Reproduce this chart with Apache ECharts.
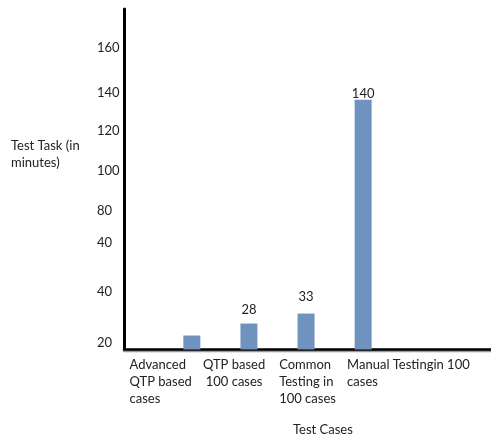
<!DOCTYPE html>
<html>
<head>
<meta charset="utf-8">
<script src="https://cdn.jsdelivr.net/npm/echarts@6/dist/echarts.min.js"></script>
<style>
  html, body { margin: 0; padding: 0; background: #fff; }
  #chart { width: 491px; height: 439px; }
</style>
</head>
<body>
<div id="chart"></div>
<script>
// values
const categories = [
  "Advanced\nQTP based\ncases",
  "QTP based\n100 cases",
  "Common\nTesting in\n100 cases",
  "Manual Testingin 100\ncases",
];
const minutes = [22, 28, 33, 140];
const valueLabels = [null, 28, 33, 140];
// the y labels as printed (the picture repeats 40), and where each one sits on the scale
const yTickLabels = ["20", "40", "40", "80", "100", "120", "140", "160"];
const yTickAt = [18.5, 44, 68.5, 84.5, 104.5, 124.5, 143.5, 166];

const font = "Lato, 'Open Sans', sans-serif";
const labelGaps = [0, 7, 10, 0];

const chart = echarts.init(document.getElementById("chart"));
chart.setOption({
  animation: false,
  textStyle: { fontFamily: font },
  title: [
    {
      text: "Test Task (in\nminutes)",
      left: 11,
      top: 137,
      padding: 0,
      textStyle: { fontSize: 13, fontWeight: "normal", color: "#222", lineHeight: 17, fontFamily: font },
    },
    {
      text: "Test Cases",
      left: 293,
      top: 423,
      padding: 0,
      textStyle: { fontSize: 13, fontWeight: "normal", color: "#222", fontFamily: font },
    },
  ],
  grid: { left: 124, right: 0, top: 9, bottom: 89.5 },
  xAxis: [
    { type: "value", show: false, min: -1.188, max: 5.239 },
    {
      type: "category",
      position: "bottom",
      boundaryGap: true,
      data: categories.concat([""]),
      axisLine: {
        onZero: false,
        lineStyle: { color: "#000", width: 2.5, shadowColor: "#999", shadowOffsetY: 1.5 },
      },
      axisTick: { show: false },
      axisLabel: {
        interval: 0,
        margin: 7,
        color: "#222",
        fontSize: 13,
        formatter: (value, index) => {
          if (!value) return "";
          const style = index === 1 ? "c" : index === 3 ? "m" : "l";
          return value.split("\n").map((line) => `{${style}|${line}}`).join("\n");
        },
        rich: {
          l: { align: "left", fontSize: 13, lineHeight: 17, color: "#222", fontFamily: font },
          c: { align: "center", fontSize: 13, lineHeight: 17, color: "#222", fontFamily: font },
          m: { align: "left", fontSize: 13, lineHeight: 17, color: "#222", fontFamily: font, padding: [0, 0, 0, 55] },
        },
      },
    },
  ],
  yAxis: {
    type: "value",
    min: 15,
    max: 185.5,
    splitLine: { show: false },
    axisTick: { show: false },
    axisLine: { show: true, onZero: false, lineStyle: { color: "#000", width: 3 } },
    axisLabel: {
      customValues: yTickAt,
      align: "left",
      margin: 27,
      color: "#222",
      fontSize: 13,
      formatter: (value) => yTickLabels[yTickAt.indexOf(value)] ?? "",
    },
  },
  series: [
    {
      type: "bar",
      xAxisIndex: 0,
      barWidth: 17,
      itemStyle: { color: "#7092be" },
      data: minutes.map((v, i) => ({
        value: [i, v],
        label: {
          show: valueLabels[i] != null,
          position: "top",
          distance: labelGaps[i],
          formatter: () => String(valueLabels[i]),
          color: "#222",
          fontSize: 13,
          fontFamily: font,
        },
      })),
    },
  ],
});
</script>
</body>
</html>
